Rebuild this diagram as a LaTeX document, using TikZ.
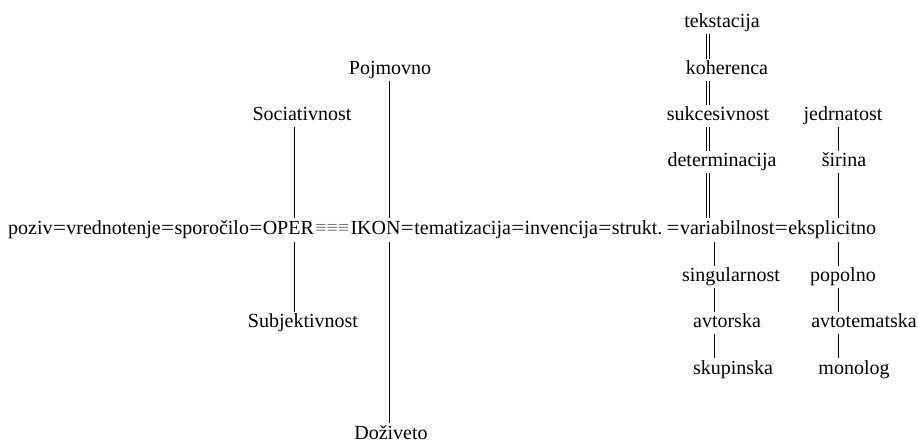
\documentclass[tikz,border=0pt]{standalone}
\usepackage{fontspec}
\usepackage{graphicx}
\setmainfont{Liberation Serif}
\usetikzlibrary{calc}
\begin{document}
\begin{tikzpicture}[x=1pt,y=-1pt,
  lbl/.style={font=\fontsize{20}{22}\selectfont, inner xsep=0pt, inner ysep=1.5pt,
    text height=14pt, text depth=4pt, anchor=base},
  mw/.style={lbl, inner ysep=3pt, anchor=base west},
  eqs/.style={mw, inner xsep=0pt},
  sline/.style={line width=1pt},
  dline/.style={line width=0.9pt}]
\useasboundingbox (0,0) rectangle (918,443);
% main line as a chain of words
\node[mw] (poz) at (8,235) {poziv};
\node[eqs] (e1) at (poz.base east) {\scalebox{1.15}[1]{=}};
\node[mw] (vre) at (e1.base east) {vrednotenje};
\node[eqs] (e2) at (vre.base east) {\scalebox{1.15}[1]{=}};
\node[mw] (spo) at (e2.base east) {sporočilo};
\node[eqs] (e3) at (spo.base east) {\scalebox{1.15}[1]{=}};
\node[mw] (ope) at (e3.base east) {OPER};
\node[eqs, text=black!55, inner xsep=1pt] (e4) at (ope.base east) {≡≡≡};
\node[mw] (iko) at (e4.base east) {IKON};
\node[eqs] (e5) at (iko.base east) {\scalebox{1.15}[1]{=}};
\node[mw] (tem) at (e5.base east) {tematizacija};
\node[eqs] (e6) at (tem.base east) {\scalebox{1.15}[1]{=}};
\node[mw] (inv) at (e6.base east) {invencija};
\node[eqs] (e7) at (inv.base east) {\scalebox{1.15}[1]{=}};
\node[mw] (str) at (e7.base east) {strukt.\kern4pt};
\node[eqs] (e8) at (str.base east) {\scalebox{1.15}[1]{=}};
\node[mw] (var) at (e8.base east) {variabilnost};
\node[eqs] (e9) at (var.base east) {\scalebox{1.15}[1]{=}};
\node[mw] (eks) at (e9.base east) {eksplicitno};
% attachment points on the main line
\path ($(ope.north west)!0.62!(ope.north east)$) coordinate (aN)
      ($(ope.south west)!0.62!(ope.south east)$) coordinate (aS)
      ($(iko.north west)!0.78!(iko.north east)$) coordinate (bN)
      ($(iko.south west)!0.78!(iko.south east)$) coordinate (bS)
      ($(var.north west)!0.30!(var.north east)$) coordinate (cN)
      ($(var.south west)!0.37!(var.south east)$) coordinate (dS)
      ($(eks.north west)!0.57!(eks.north east)$) coordinate (eN)
      ($(eks.south west)!0.57!(eks.south east)$) coordinate (eS);
\coordinate (cL) at ($(cN)+(-1.6,0)$);
\coordinate (cR) at ($(cN)+(1.6,0)$);
% left labels
\node[lbl] (soc) at (302,121) {Sociativnost};
\node[lbl] (sub) at (303,328) {Subjektivnost};
\node[lbl] (poj) at (390,75) {Pojmovno};
\node[lbl, text depth=0pt] (doz) at (391,439) {Doživeto};
% column 1
\node[lbl] (tek) at (722,28) {tekstacija};
\node[lbl] (koh) at (727,75) {koherenca};
\node[lbl] (suk) at (718,121) {sukcesivnost};
\node[lbl] (det) at (722,167) {determinacija};
\node[lbl] (sin) at (731,282) {singularnost};
\node[lbl] (avt) at (727,328) {avtorska};
\node[lbl] (sku) at (733,374) {skupinska};
% column 2
\node[lbl] (jed) at (843,121) {jedrnatost};
\node[lbl] (sir) at (844,167) {širina};
\node[lbl] (pop) at (843,282) {popolno};
\node[lbl] (ato) at (864,328) {avtotematska};
\node[lbl] (mon) at (854,374) {monolog};
% connectors left
\draw[sline] (soc.south -| aN) -- (aN);
\draw[sline] (aS) -- (sub.north -| aS);
\draw[sline] (poj.south -| bN) -- (bN);
\draw[sline] (bS) -- (doz.north -| bS);
% connectors column 1 (double)
\foreach \c in {cL,cR} {
  \draw[dline] (tek.south -| \c) -- (koh.north -| \c);
  \draw[dline] (koh.south -| \c) -- (suk.north -| \c);
  \draw[dline] (suk.south -| \c) -- (det.north -| \c);
  \draw[dline] (det.south -| \c) -- (var.north -| \c);
}
\draw[sline] (dS) -- (sin.north -| dS);
\draw[sline] (sin.south -| dS) -- (avt.north -| dS);
\draw[sline] (avt.south -| dS) -- (sku.north -| dS);
% connectors column 2
\draw[sline] (jed.south -| eN) -- (sir.north -| eN);
\draw[sline] (sir.south -| eN) -- (eN);
\draw[sline] (eS) -- (pop.north -| eS);
\draw[sline] (pop.south -| eS) -- (ato.north -| eS);
\draw[sline] (ato.south -| eS) -- (mon.north -| eS);
\end{tikzpicture}
\end{document}
